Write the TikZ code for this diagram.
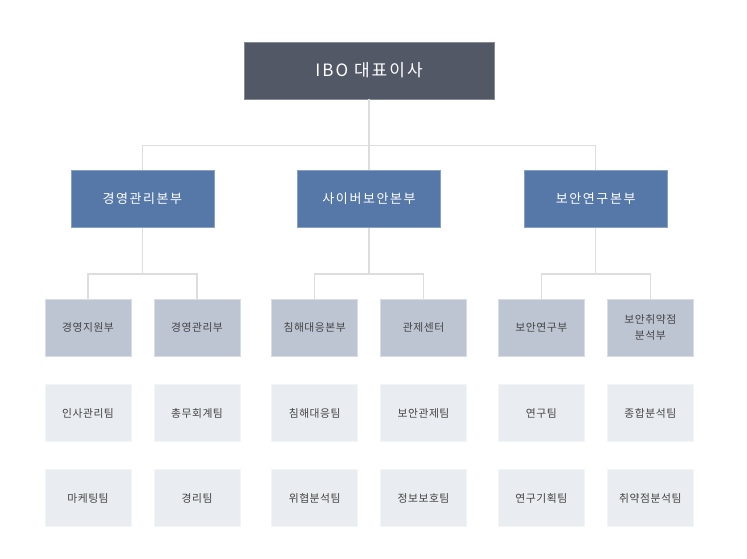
\documentclass[tikz,border=0pt]{standalone}
\usepackage{fontspec}
\setmainfont{Noto Sans CJK KR}
\newfontfamily\krwide[LetterSpace=12]{Noto Sans CJK KR}
\newfontfamily\kr[LetterSpace=5]{Noto Sans CJK KR}
\definecolor{topc}{HTML}{525866}
\definecolor{divc}{HTML}{5578A8}
\definecolor{deptc}{HTML}{BEC5D2}
\definecolor{teamc}{HTML}{E9ECF0}
\definecolor{linec}{HTML}{DDDDDD}
\definecolor{txtc}{HTML}{444444}
\tikzset{
  topbox/.style={fill=topc, draw=topc!70!white, line width=0.6pt, minimum width=250pt, minimum height=57pt, text=white, font=\krwide\fontsize{17}{20}\selectfont},
  divbox/.style={fill=divc, draw=divc!70!white, line width=0.6pt, minimum width=143pt, minimum height=57pt, text=white, font=\krwide\fontsize{13}{16}\selectfont},
  deptbox/.style={fill=deptc, draw=deptc!60!white, line width=0.6pt, minimum width=86pt, minimum height=57pt, text=txtc, font=\kr\fontsize{10.8}{16}\selectfont, align=center},
  teambox/.style={fill=teamc, draw=teamc!60!white, line width=0.6pt, minimum width=86pt, minimum height=57pt, text=txtc, font=\kr\fontsize{10.8}{16}\selectfont},
  conn/.style={draw=linec, line width=1.5pt}
}
\begin{document}
\begin{tikzpicture}[x=1pt,y=-1pt]
\useasboundingbox (0,0) rectangle (747,558);
\node[topbox] (ceo) at (369,70.5) {IBO 대표이사};
\node[divbox] (d1) at (142.3,199) {경영관리본부};
\node[divbox] (d2) at (369,199) {사이버보안본부};
\node[divbox] (d3) at (595.7,199) {보안연구본부};
\node[deptbox] (a1) at (88,327.5) {경영지원부};
\node[deptbox] (a2) at (197,327.5) {경영관리부};
\node[deptbox] (b1) at (314.7,327.5) {침해대응본부};
\node[deptbox] (b2) at (423.5,327.5) {관제센터};
\node[deptbox] (c1) at (541.3,327.5) {보안연구부};
\node[deptbox] (c2) at (650.3,327.5) {보안취약점\\분석부};
\node[teambox] (a1t1) at (88,413) {인사관리팀};
\node[teambox] (a2t1) at (197,413) {총무회계팀};
\node[teambox] (b1t1) at (314.7,413) {침해대응팀};
\node[teambox] (b2t1) at (423.5,413) {보안관제팀};
\node[teambox] (c1t1) at (541.3,413) {연구팀};
\node[teambox] (c2t1) at (650.3,413) {종합분석팀};
\node[teambox] (a1t2) at (88,498) {마케팅팀};
\node[teambox] (a2t2) at (197,498) {경리팀};
\node[teambox] (b1t2) at (314.7,498) {위협분석팀};
\node[teambox] (b2t2) at (423.5,498) {정보보호팀};
\node[teambox] (c1t2) at (541.3,498) {연구기획팀};
\node[teambox] (c2t2) at (650.3,498) {취약점분석팀};
\draw[conn] (ceo.south) -- (d2.north);
\draw[conn] (ceo.south) |- ++(0,46) -| (d1.north);
\draw[conn] (ceo.south) |- ++(0,46) -| (d3.north);
\foreach \p/\l/\r in {d1/a1/a2, d2/b1/b2, d3/c1/c2}{
  \draw[conn] (\p.south) |- ++(0,46) -| (\l.north);
  \draw[conn] (\p.south) |- ++(0,46) -| (\r.north);
}
\end{tikzpicture}
\end{document}
